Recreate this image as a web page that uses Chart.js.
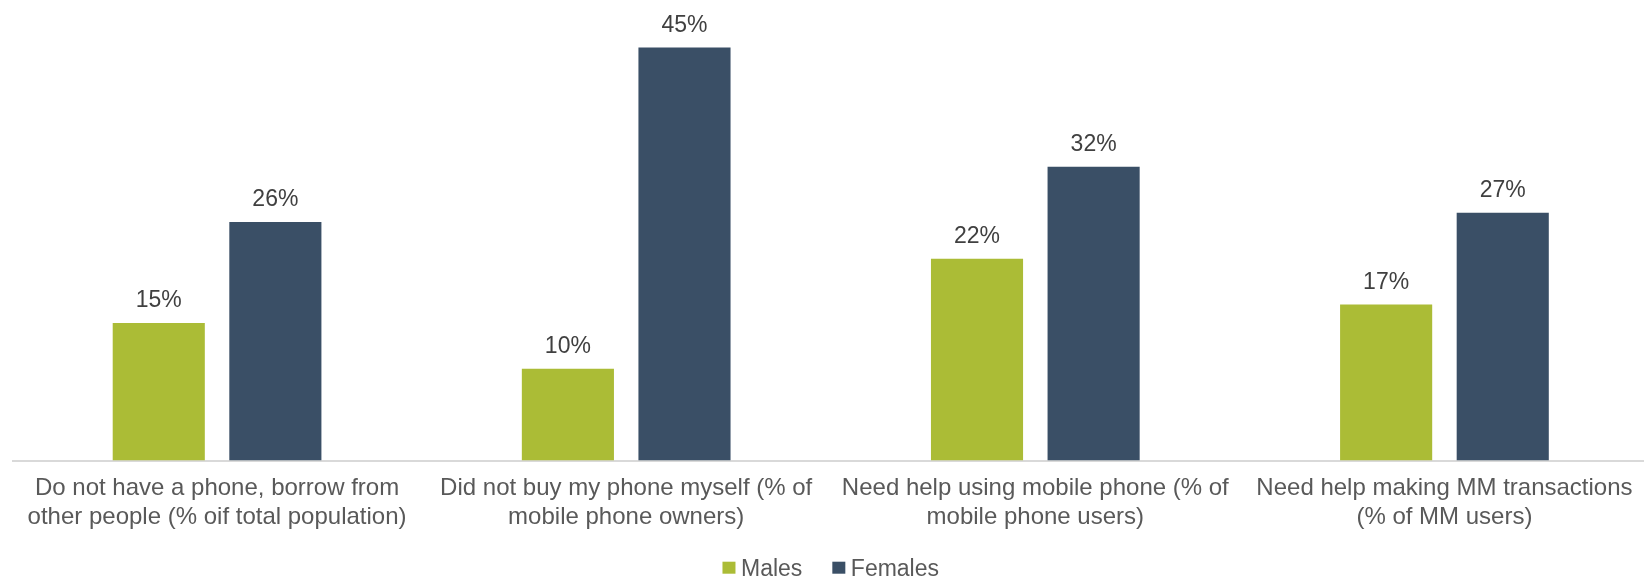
<!DOCTYPE html>
<html>
<head>
<meta charset="utf-8">
<title>Phone access and help needed, by gender</title>
<script src="https://cdn.jsdelivr.net/npm/chart.js@4.4.1/dist/chart.umd.min.js"></script>
<style>
  html, body { margin: 0; padding: 0; background: #ffffff; overflow: hidden; }
  #wrap { width: 1650px; height: 578px; }
</style>
</head>
<body>
<div id="wrap"><canvas id="c" width="1650" height="578"></canvas></div>
<script>
// Survey categories (each label split into its two display lines)
const categories = [
  ['Do not have a phone, borrow from', 'other people (% oif total population)'],
  ['Did not buy my phone myself (% of', 'mobile phone owners)'],
  ['Need help using mobile phone (% of', 'mobile phone users)'],
  ['Need help making MM transactions', '(% of MM users)']
];

// Share of respondents, in percent
const males = [15, 10, 22, 17];
const females = [26, 45, 32, 27];

const seriesNames = ['Males', 'Females'];
const seriesColors = ['#abbc36', '#3a4f66'];

const yMin = 0;
const yMax = 50;

const FONT = "'Liberation Sans', Arial, Helvetica, sans-serif";

// Percentage labels above each bar
const barValueLabels = {
  id: 'barValueLabels',
  afterDatasetsDraw(chart) {
    const ctx = chart.ctx;
    ctx.save();
    ctx.font = '23px ' + FONT;
    ctx.fillStyle = '#404040';
    ctx.textAlign = 'center';
    ctx.textBaseline = 'alphabetic';
    chart.data.datasets.forEach((ds, i) => {
      const meta = chart.getDatasetMeta(i);
      meta.data.forEach((bar, j) => {
        ctx.fillText(ds.data[j] + '%', bar.x, bar.y - 16);
      });
    });
    ctx.restore();
  }
};

// Compact legend centred under the plot: small square swatch, tight gap to text
const swatchLegend = {
  id: 'swatchLegend',
  afterDraw(chart) {
    const ctx = chart.ctx;
    const area = chart.chartArea;
    const box = 13, boxH = 12, gap = 5.5, itemGap = 30;
    ctx.save();
    ctx.font = '23px ' + FONT;
    const items = chart.data.datasets.map(ds => ({
      text: ds.label, color: ds.backgroundColor, w: ctx.measureText(ds.label).width
    }));
    let total = 0;
    items.forEach((it, i) => { total += box + gap + it.w + (i ? itemGap : 0); });
    let x = (area.left + area.right) / 2 - total / 2;
    const boxTop = 561.7;
    const baseline = 575.5;
    ctx.textAlign = 'left';
    ctx.textBaseline = 'alphabetic';
    items.forEach((it, i) => {
      if (i) x += itemGap;
      ctx.fillStyle = it.color;
      ctx.fillRect(x, boxTop, box, boxH);
      x += box + gap;
      ctx.fillStyle = '#595959';
      ctx.fillText(it.text, x, baseline);
      x += it.w;
    });
    ctx.restore();
  }
};

new Chart(document.getElementById('c'), {
  type: 'bar',
  data: {
    labels: categories,
    datasets: [
      { label: seriesNames[0], data: males, backgroundColor: seriesColors[0] },
      { label: seriesNames[1], data: females, backgroundColor: seriesColors[1] }
    ]
  },
  options: {
    responsive: false,
    animation: false,
    devicePixelRatio: 1,
    layout: { padding: { left: 12.5, right: 1, top: 1.6, bottom: 0 } },
    datasets: {
      bar: { categoryPercentage: 0.57, barPercentage: 0.79, borderWidth: 0 }
    },
    plugins: {
      legend: { display: false },
      tooltip: { enabled: false }
    },
    scales: {
      x: {
        grid: { display: false, drawTicks: false },
        border: { display: true, color: '#d9d9d9', width: 2 },
        ticks: {
          color: '#595959',
          padding: 14,
          maxRotation: 0,
          autoSkip: false,
          font: { family: FONT, size: 24, lineHeight: 1.18 }
        },
        afterFit(scale) { scale.height = 117.4; }
      },
      y: {
        display: false,
        min: yMin,
        max: yMax,
        grid: { display: false }
      }
    }
  },
  plugins: [barValueLabels, swatchLegend]
});
</script>
</body>
</html>
